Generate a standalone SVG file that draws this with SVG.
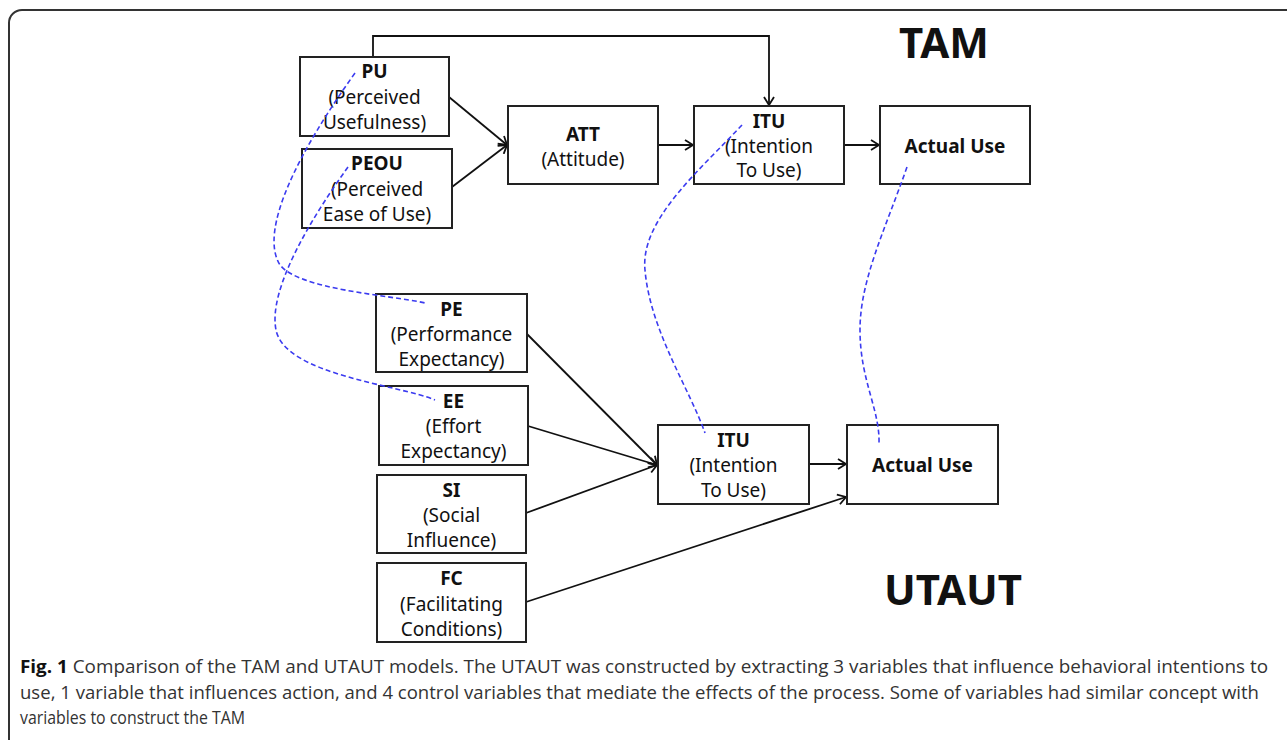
<svg xmlns="http://www.w3.org/2000/svg" width="1287" height="740" viewBox="0 0 1287 740">
<style>
.box{fill:#fff;stroke:#222;stroke-width:2}
.t{font-family:"Noto Sans","Open Sans",sans-serif;font-size:19px;fill:#111;text-anchor:middle}
.b{font-weight:bold}
.big{font-family:"Noto Sans","Open Sans",sans-serif;font-size:42px;font-weight:bold;fill:#111;text-anchor:middle}
.c{fill:none;stroke:#111;stroke-width:1.8}
.d{fill:none;stroke:#3b3bf0;stroke-width:1.6;stroke-dasharray:5 3}
.cap{font-family:"Open Sans","Noto Sans",sans-serif;font-size:17.5px;fill:#333}
</style>
<defs>
<marker id="ah" markerUnits="userSpaceOnUse" markerWidth="12" markerHeight="12" refX="10" refY="6" orient="auto">
<path d="M2,1 L10,6 L2,11" fill="none" stroke="#111" stroke-width="1.8"/>
</marker>
</defs>
<rect width="1287" height="740" fill="#fff"/>
<path d="M1287,10 H22 A13,13 0 0 0 9,23 V740" fill="none" stroke="#333" stroke-width="2"/>

<g id="connectors">
<path class="c" d="M373,57 V36 H769 V105" marker-end="url(#ah)"/>
<path class="c" d="M449,97 L507,145" marker-end="url(#ah)"/>
<path class="c" d="M452,187 L507,145" marker-end="url(#ah)"/>
<path class="c" d="M658,145 L693,145" marker-end="url(#ah)"/>
<path class="c" d="M844,145 L879,145" marker-end="url(#ah)"/>
<path class="c" d="M527,334 L657,465" marker-end="url(#ah)"/>
<path class="c" d="M528,426 L657,465" marker-end="url(#ah)"/>
<path class="c" d="M526,513 L657,465" marker-end="url(#ah)"/>
<path class="c" d="M809,464 L846,464" marker-end="url(#ah)"/>
<path class="c" d="M526,602 L846,497" marker-end="url(#ah)"/>
</g>

<g id="PU"><rect class="box" x="300" y="57" width="149" height="79"/>
<text class="t b" x="374.5" y="78">PU</text><text class="t" x="374.5" y="104">(Perceived</text><text class="t" x="374.5" y="129">Usefulness)</text></g>
<g id="PEOU"><rect class="box" x="302" y="149" width="150" height="79"/>
<text class="t b" x="377" y="170">PEOU</text><text class="t" x="377" y="196">(Perceived</text><text class="t" x="377" y="221">Ease of Use)</text></g>
<g id="ATT"><rect class="box" x="508" y="106" width="150" height="78"/>
<text class="t b" x="583" y="141">ATT</text><text class="t" x="583" y="166">(Attitude)</text></g>
<g id="ITU_TAM"><rect class="box" x="694" y="106" width="150" height="78"/>
<text class="t b" x="769" y="128">ITU</text><text class="t" x="769" y="153">(Intention</text><text class="t" x="769" y="177">To Use)</text></g>
<g id="AU_TAM"><rect class="box" x="880" y="106" width="150" height="78"/>
<text class="t b" x="955" y="153">Actual Use</text></g>

<g id="PE"><rect class="box" x="376" y="294" width="151" height="78"/>
<text class="t b" x="451.5" y="316">PE</text><text class="t" x="451.5" y="341">(Performance</text><text class="t" x="451.5" y="366">Expectancy)</text></g>
<g id="EE"><rect class="box" x="379" y="386" width="149" height="79"/>
<text class="t b" x="453.5" y="408">EE</text><text class="t" x="453.5" y="433">(Effort</text><text class="t" x="453.5" y="458">Expectancy)</text></g>
<g id="SI"><rect class="box" x="377" y="475" width="149" height="78"/>
<text class="t b" x="451.5" y="497">SI</text><text class="t" x="451.5" y="522">(Social</text><text class="t" x="451.5" y="547">Influence)</text></g>
<g id="FC"><rect class="box" x="377" y="563" width="149" height="79"/>
<text class="t b" x="451.5" y="585">FC</text><text class="t" x="451.5" y="611">(Facilitating</text><text class="t" x="451.5" y="636">Conditions)</text></g>
<g id="ITU_UTAUT"><rect class="box" x="658" y="425" width="151" height="79"/>
<text class="t b" x="733.5" y="447">ITU</text><text class="t" x="733.5" y="472">(Intention</text><text class="t" x="733.5" y="497">To Use)</text></g>
<g id="AU_UTAUT"><rect class="box" x="847" y="425" width="151" height="79"/>
<text class="t b" x="922.5" y="472">Actual Use</text></g>

<g id="similarity">
<path class="d" d="M355,73 C300,150 258,230 280,265 C300,290 390,295 425,303"/>
<path class="d" d="M348,167 C310,220 268,290 276,330 C285,375 400,385 435,400"/>
<path class="d" d="M742,125 C700,170 640,220 645,270 C650,330 690,390 705,433"/>
<path class="d" d="M907,167 C885,230 860,280 860,330 C860,380 880,410 879,443"/>
</g>

<text class="big" x="944" y="58">TAM</text>
<text class="big" x="953" y="605">UTAUT</text>

<g id="caption">
<text class="cap" x="20" y="673" textLength="1248" lengthAdjust="spacingAndGlyphs"><tspan font-weight="bold" fill="#111">Fig. 1</tspan> Comparison of the TAM and UTAUT models. The UTAUT was constructed by extracting 3 variables that influence behavioral intentions to</text>
<text class="cap" x="20" y="699" textLength="1239" lengthAdjust="spacingAndGlyphs">use, 1 variable that influences action, and 4 control variables that mediate the effects of the process. Some of variables had similar concept with</text>
<text class="cap" x="20" y="724" textLength="225" lengthAdjust="spacingAndGlyphs">variables to construct the TAM</text>
</g>
</svg>
